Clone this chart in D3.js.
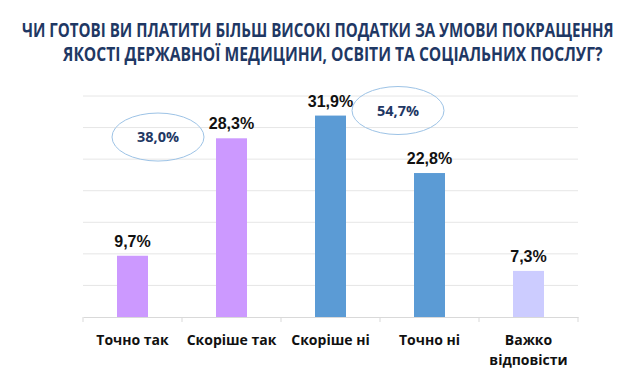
<!DOCTYPE html>
<html>
<head>
<meta charset="utf-8">
<script src="https://cdn.jsdelivr.net/npm/d3@7"></script>
<style>
  body { margin: 0; background: #fff; }
  svg { display: block; }
</style>
</head>
<body>
<svg id="chart" width="620" height="377"></svg>
<script>
const categories = ["Точно так", "Скоріше так", "Скоріше ні", "Точно ні", "Важко відповісти"];
const values = [9.7, 28.3, 31.9, 22.8, 7.3];
const yTicks = [0, 5, 10, 15, 20, 25, 30, 35];
const groupTotals = ["38,0%", "54,7%"];
const titleLines = [
  "ЧИ ГОТОВІ ВИ ПЛАТИТИ БІЛЬШ ВИСОКІ ПОДАТКИ ЗА УМОВИ ПОКРАЩЕННЯ",
  "ЯКОСТІ ДЕРЖАВНОЇ МЕДИЦИНИ, ОСВІТИ ТА СОЦІАЛЬНИХ ПОСЛУГ?"
];

const barColors = ["#cc99ff", "#cc99ff", "#5b9bd5", "#5b9bd5", "#ccccff"];
const fmt = (v) => d3.format(".1f")(v).replace(".", ",") + "%";

const svg = d3.select("#chart");
const plotLeft = 83, plotRight = 578, plotTop = 96, plotBottom = 317;

const x = d3.scaleBand().domain(categories).range([plotLeft, plotRight]).paddingInner(0).paddingOuter(0);
const y = d3.scaleLinear().domain([0, 35]).range([plotBottom, plotTop]);
const barW = 31;

// title, squeezed horizontally to the narrow look of the original
const titlePos = [{ x: 22, w: 592 }, { x: 63, w: 540 }];
svg.selectAll("text.title")
  .data(titleLines)
  .join("text")
  .attr("class", "title")
  .attr("font-family", "'Open Sans', sans-serif")
  .attr("font-weight", "bold")
  .attr("font-size", 19)
  .attr("fill", "#1f3864")
  .text((d) => d)
  .each(function (d, i) {
    const sx = titlePos[i].w / this.getComputedTextLength();
    d3.select(this).attr("transform", `translate(${titlePos[i].x},${37 + i * 24}) scale(${sx},1)`);
  });

// gridlines
svg.append("g")
  .selectAll("line")
  .data(yTicks.filter((t) => t > 0))
  .join("line")
  .attr("x1", plotLeft)
  .attr("x2", plotRight)
  .attr("y1", (d) => y(d))
  .attr("y2", (d) => y(d))
  .attr("stroke", "#e6e6e6")
  .attr("stroke-width", 1);

// x axis
const xAxis = svg.append("g")
  .attr("transform", `translate(0,${plotBottom})`)
  .call(d3.axisBottom(x).tickSize(0).tickFormat(""));
xAxis.select(".domain").attr("stroke", "#d9d9d9");
xAxis.selectAll(".tick").remove();
xAxis.selectAll("line.sep")
  .data(d3.range(categories.length + 1))
  .join("line")
  .attr("class", "sep")
  .attr("x1", (i) => plotLeft + i * x.step())
  .attr("x2", (i) => plotLeft + i * x.step())
  .attr("y1", 0)
  .attr("y2", 5)
  .attr("stroke", "#d9d9d9");

// bars
svg.append("g")
  .selectAll("rect")
  .data(values)
  .join("rect")
  .attr("x", (d, i) => x(categories[i]) + x.bandwidth() / 2 - barW / 2)
  .attr("width", barW)
  .attr("y", (d) => y(d))
  .attr("height", (d) => y(0) - y(d))
  .attr("fill", (d, i) => barColors[i]);

// value labels
svg.append("g")
  .selectAll("text")
  .data(values)
  .join("text")
  .attr("x", (d, i) => x(categories[i]) + x.bandwidth() / 2)
  .attr("y", (d) => y(d) - 9)
  .attr("text-anchor", "middle")
  .attr("font-family", "'Liberation Sans', Arial, sans-serif")
  .attr("font-weight", "bold")
  .attr("font-size", 16)
  .attr("fill", "#111")
  .text(fmt);

// category labels
svg.append("g")
  .selectAll("text")
  .data(categories)
  .join("text")
  .attr("x", (d) => x(d) + x.bandwidth() / 2)
  .attr("y", 345)
  .attr("text-anchor", "middle")
  .attr("font-family", "'Open Sans', sans-serif")
  .attr("font-weight", "bold")
  .attr("font-size", 14)
  .attr("fill", "#111")
  .each(function (d) {
    const words = d === "Важко відповісти" ? ["Важко", "відповісти"] : [d];
    d3.select(this).selectAll("tspan")
      .data(words)
      .join("tspan")
      .attr("x", x(d) + x.bandwidth() / 2)
      .attr("dy", (w, i) => (i === 0 ? 0 : 20))
      .text((w) => w);
  });

// group total ellipses
const ellipses = [
  { label: groupTotals[0], cx: x(categories[0]) + x.bandwidth() / 2 + 25.5, cy: y(28.5) },
  { label: groupTotals[1], cx: x(categories[2]) + x.bandwidth() / 2 + 67.5, cy: y(32.7) }
];
const eg = svg.append("g").selectAll("g").data(ellipses).join("g");
eg.append("ellipse")
  .attr("cx", (d) => d.cx)
  .attr("cy", (d) => d.cy)
  .attr("rx", 46)
  .attr("ry", 24)
  .attr("fill", "none")
  .attr("stroke", "#9dc3e6")
  .attr("stroke-width", 1);
eg.append("text")
  .attr("x", (d) => d.cx)
  .attr("y", (d) => d.cy + 5)
  .attr("text-anchor", "middle")
  .attr("font-family", "'Open Sans', sans-serif")
  .attr("font-weight", "bold")
  .attr("font-size", 14.5)
  .attr("fill", "#1f3864")
  .text((d) => d.label);
</script>
</body>
</html>
